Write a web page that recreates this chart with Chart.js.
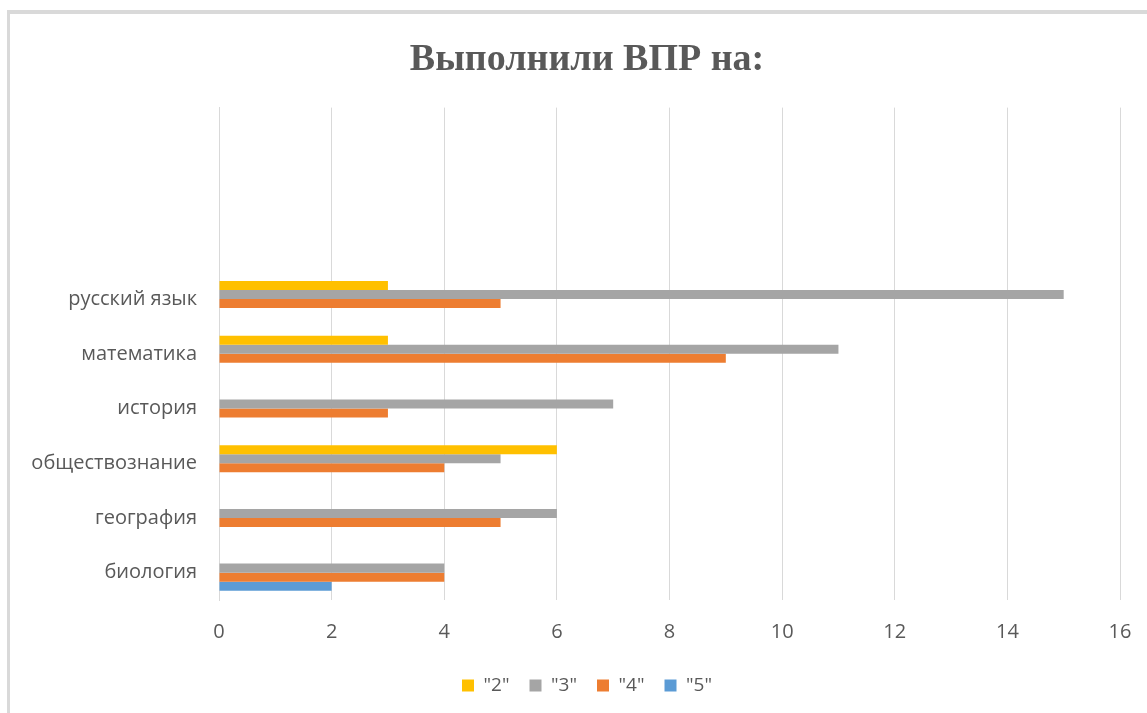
<!DOCTYPE html>
<html>
<head>
<meta charset="utf-8">
<script src="https://cdn.jsdelivr.net/npm/chart.js@4"></script>
<style>
  html, body { margin: 0; padding: 0; background: #fff; }
  #frame {
    position: absolute; left: 7px; top: 10px; width: 1140px; height: 703px;
    border-left: 3px solid #d9d9d9; border-top: 4px solid #d9d9d9;
    box-sizing: border-box;
  }
  #wrap { position: absolute; left: 0; top: 0; width: 1147px; height: 713px; }
</style>
</head>
<body>
<div id="frame"></div>
<div id="wrap"><canvas id="vprChart"></canvas></div>
<script>
// Subjects top to bottom (first three slots are empty in the original sheet)
const subjects = ['', '', '', 'русский язык', 'математика', 'история', 'обществознание', 'география', 'биология'];
const grade2 = [0, 0, 0, 3, 3, 0, 6, 0, 0];
const grade3 = [0, 0, 0, 15, 11, 7, 5, 6, 4];
const grade4 = [0, 0, 0, 5, 9, 3, 4, 5, 4];
const grade5 = [0, 0, 0, 0, 0, 0, 0, 0, 2];
const seriesNames = ['"2"', '"3"', '"4"', '"5"'];
const xTicks = [0, 2, 4, 6, 8, 10, 12, 14, 16];

const textColor = '#595959';
const gridColor = '#d9d9d9';

const ctx = document.getElementById('vprChart').getContext('2d');
new Chart(ctx, {
  type: 'bar',
  data: {
    labels: subjects,
    datasets: [
      { label: seriesNames[0], data: grade2, backgroundColor: '#ffc000' },
      { label: seriesNames[1], data: grade3, backgroundColor: '#a5a5a5' },
      { label: seriesNames[2], data: grade4, backgroundColor: '#ed7d31' },
      { label: seriesNames[3], data: grade5, backgroundColor: '#5b9bd5' }
    ]
  },
  options: {
    indexAxis: 'y',
    responsive: true,
    maintainAspectRatio: false,
    animation: false,
    categoryPercentage: 0.66,
    barPercentage: 1.0,
    borderWidth: 0,
    // negative right padding moves the centred title/legend to the right like the original
    layout: { padding: { left: 10, right: -17, top: 10, bottom: 8 } },
    scales: {
      x: {
        min: 0,
        max: 16,
        afterBuildTicks: (scale) => { scale.ticks = xTicks.map(v => ({ value: v })); },
        grid: { color: gridColor, lineWidth: 1, drawTicks: false },
        border: { display: false },
        ticks: { color: textColor, padding: 20, font: { family: 'Open Sans', size: 20 } },
        afterFit: (scale) => { scale.height = 56; scale.paddingRight = 27; }
      },
      y: {
        grid: { display: false, drawTicks: false },
        border: { display: true, color: gridColor },
        ticks: { color: textColor, padding: 22, font: { family: 'Open Sans', size: 20 } },
        afterFit: (scale) => { scale.width = 209; }
      }
    },
    plugins: {
      title: {
        display: true,
        text: 'Выполнили ВПР на:',
        color: textColor,
        font: { family: 'Liberation Serif', size: 38, weight: 'bold' },
        padding: { top: 27, bottom: 25 }
      },
      legend: {
        position: 'bottom',
        labels: {
          color: textColor,
          boxWidth: 12,
          boxHeight: 12,
          padding: 20,
          font: { family: 'Open Sans', size: 19 }
        }
      },
      tooltip: { enabled: false }
    }
  }
});
</script>
</body>
</html>
